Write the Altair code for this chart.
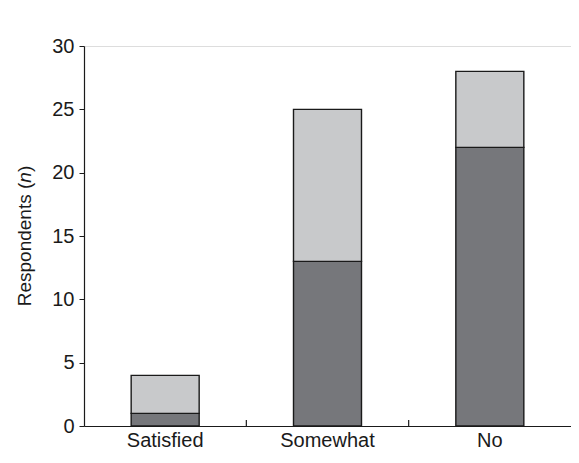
import altair as alt
import pandas as pd

categories = ["Satisfied", "Somewhat", "No"]
lower_values = [1, 13, 22]
upper_values = [3, 12, 6]
series_names = ["Lower", "Upper"]
series_colors = ["#76777b", "#c8c9cb"]
y_ticks = [0, 5, 10, 15, 20, 25, 30]

rows = []
for c, lo, up in zip(categories, lower_values, upper_values):
    rows.append({"cat": c, "series": series_names[0], "val": lo, "ord": 0})
    rows.append({"cat": c, "series": series_names[1], "val": up, "ord": 1})
df = pd.DataFrame(rows)

W, H = 487, 380
FONT = "Liberation Sans"
INK = "#1a1a1a"

bars = alt.Chart(df).mark_bar(size=68, stroke=INK, strokeWidth=1.4).encode(
    x=alt.X("cat:N", sort=categories, scale=alt.Scale(paddingInner=0, paddingOuter=0),
            axis=alt.Axis(title=None, labelAngle=0, ticks=False, labelFontSize=20,
                          labelFont=FONT, labelColor=INK, labelPadding=4,
                          domainColor=INK, domainWidth=1.2)),
    y=alt.Y("val:Q", stack="zero", scale=alt.Scale(domain=[0, 30], nice=False),
            axis=alt.Axis(title=None, values=y_ticks, grid=False, tickSize=5,
                          tickColor=INK, domainColor=INK, domainWidth=1.2,
                          labelFontSize=20, labelFont=FONT, labelColor=INK,
                          labelPadding=5)),
    color=alt.Color("series:N", scale=alt.Scale(domain=series_names, range=series_colors),
                    legend=None),
    order=alt.Order("ord:Q"),
)

bound_df = pd.DataFrame({"cat": categories[1:]})
xticks = alt.Chart(bound_df).mark_rule(color=INK, strokeWidth=1.2).encode(
    x=alt.X("cat:N", sort=categories, bandPosition=0),
    y=alt.value(H - 6),
    y2=alt.value(H),
)

# y-axis title with italic n
TFS = 19
k = TFS / 16.0
w1, w2, w3 = 104.1 * k, 8.9 * k, 5.33 * k
total = w1 + w2 + w3
cy = H / 2
start = cy + total / 2
title_df = pd.DataFrame({"t": [0]})
tx = -59
t1 = alt.Chart(title_df).mark_text(text="Respondents (", angle=270, align="left",
                                     baseline="middle", fontSize=TFS, font=FONT,
                                     color=INK).encode(x=alt.value(tx), y=alt.value(start))
t2 = alt.Chart(title_df).mark_text(text="n", angle=270, align="left", baseline="middle",
                                     fontSize=TFS, font=FONT, fontStyle="italic",
                                     color=INK).encode(x=alt.value(tx), y=alt.value(start - w1))
t3 = alt.Chart(title_df).mark_text(text=")", angle=270, align="left", baseline="middle",
                                     fontSize=TFS, font=FONT,
                                     color=INK).encode(x=alt.value(tx), y=alt.value(start - w1 - w2))

chart = alt.layer(bars, xticks, t1, t2, t3).properties(
    width=W, height=H,
    autosize=alt.AutoSizeParams(type="none"),
    padding={"left": 76, "top": 38, "right": 0, "bottom": 23},
).configure_view(stroke=None).configure(background="white")

chart.save("out.html", embed_options={"renderer": "svg", "actions": False})
